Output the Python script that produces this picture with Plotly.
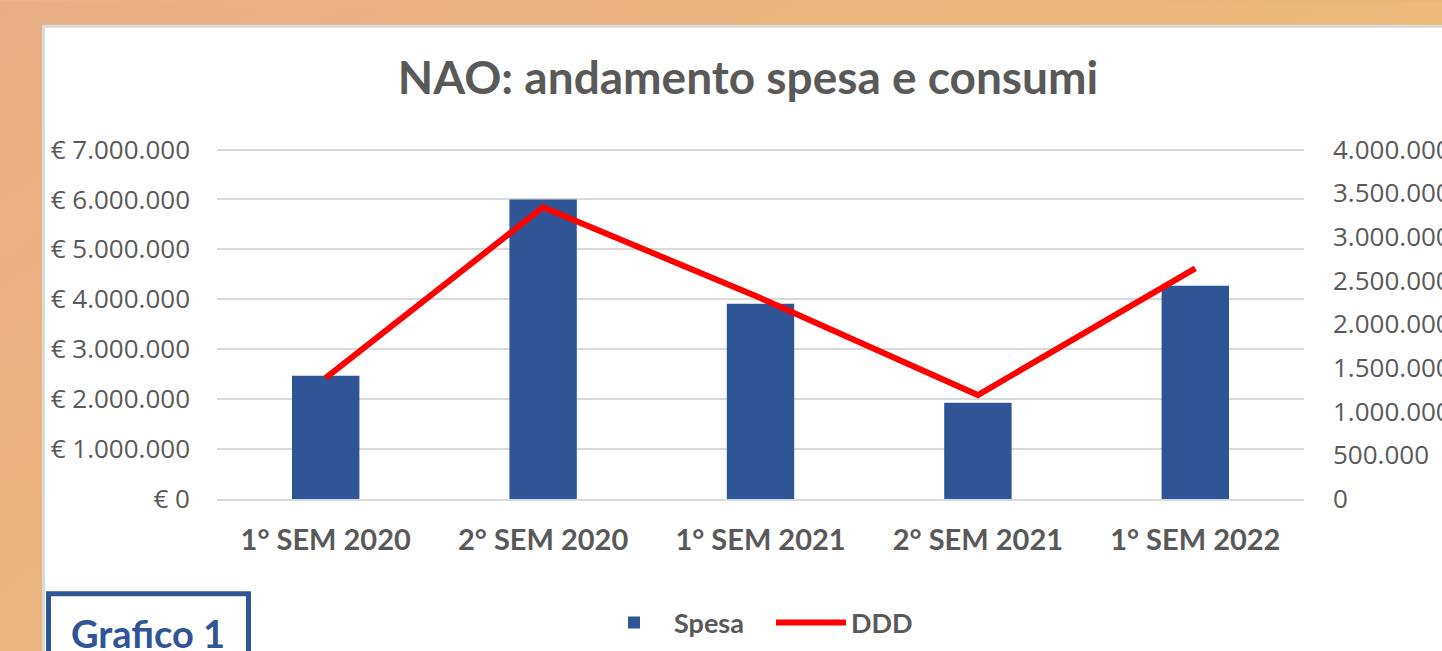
import base64
import plotly.graph_objects as go

categories = ["1° SEM 2020", "2° SEM 2020", "1° SEM 2021", "2° SEM 2021", "1° SEM 2022"]
spesa = [2470000, 6000000, 3910000, 1930000, 4270000]
ddd = [1385000, 3340000, 2300000, 1190000, 2640000]
left_ticks = [i * 1000000 for i in range(8)]
right_ticks = [i * 500000 for i in range(9)]


def it_num(v):
    return f"{v:,}".replace(",", ".")


left_text = ["€ " + it_num(v) for v in left_ticks]
right_text = [it_num(v) for v in right_ticks]

EPS = 1.01
W, H = 1442, 651
L, R, B = 217, 1304, 499
T = B - 350 * EPS
PW, PH = R - L, B - T


def px(x):
    return (x - L) / PW


def py(y):
    return (B - y) / PH


GREY = "#595959"
BLUE = "#2F5597"

fig = go.Figure()
fig.add_trace(go.Bar(x=categories, y=spesa, name="Spesa", marker_color=BLUE,
                     marker_line_width=0, yaxis="y"))
fig.add_trace(go.Scatter(x=categories, y=ddd, name="DDD", mode="lines",
                         line=dict(color="#FF0000", width=6), yaxis="y2"))

svg = ('<svg xmlns="http://www.w3.org/2000/svg" width="1442" height="651">'
       '<defs><linearGradient id="g" x1="0" y1="0" x2="1" y2="0.6">'
       '<stop offset="0" stop-color="#E8AE86"/><stop offset="0.5" stop-color="#EBB67E"/>'
       '<stop offset="1" stop-color="#EDBD78"/></linearGradient></defs>'
       '<rect width="1442" height="651" fill="url(#g)"/></svg>')
src = "data:image/svg+xml;base64," + base64.b64encode(svg.encode()).decode()

fig.update_layout(
    width=W, height=H,
    margin=dict(l=L, r=W - R, t=T, b=H - B, pad=0, autoexpand=False),
    paper_bgcolor="#EBB47F",
    plot_bgcolor="rgba(0,0,0,0)",
    bargap=0.69,
    showlegend=True,
    legend=dict(orientation="h", xref="container", yref="container",
                x=771 / W, xanchor="center", y=1 - 623 / H, yanchor="middle",
                font=dict(family="Lato", size=27, color=GREY, weight="bold"),
                bgcolor="rgba(0,0,0,0)", itemwidth=70, entrywidth=92,
                tracegroupgap=0),
    title=dict(text="<b>NAO: andamento spesa e consumi</b>", x=748 / W, xanchor="center",
               y=1 - 78 / H, yanchor="middle", xref="container", yref="container",
               font=dict(family="Lato", size=46, color=GREY)),
    xaxis=dict(showgrid=False, showline=True, linecolor="#D9D9D9", linewidth=2,
               ticks="", ticklabelstandoff=14, automargin=False,
               tickfont=dict(family="Lato", size=29, color=GREY, weight="bold")),
    yaxis=dict(range=[0, 7000000 * EPS], tickmode="array", tickvals=left_ticks,
               ticktext=left_text, automargin=False,
               showgrid=True, gridcolor="#D9D9D9", gridwidth=2, zeroline=False,
               ticks="", ticklabelstandoff=26,
               tickfont=dict(family="Open Sans", size=26, color=GREY)),
    yaxis2=dict(range=[0, 4000000 * EPS], tickmode="array", tickvals=right_ticks,
                ticktext=right_text, overlaying="y", automargin=False,
                side="right", showgrid=False, zeroline=False, ticks="", ticklabelstandoff=28,
                tickfont=dict(family="Open Sans", size=26, color=GREY)),
    images=[dict(source=src, xref="paper", yref="paper", x=px(0), y=py(0),
                 sizex=W / PW, sizey=H / PH, xanchor="left", yanchor="top",
                 sizing="stretch", layer="below")],
    shapes=[
        dict(type="rect", xref="paper", yref="paper", x0=px(43.5), x1=px(1450),
             y0=py(660), y1=py(25.5), fillcolor="white",
             line=dict(color="#D9D9D9", width=3), layer="below"),
        dict(type="rect", xref="paper", yref="paper", x0=px(48.5), x1=px(248.5),
             y0=py(670), y1=py(594), fillcolor="white",
             line=dict(color=BLUE, width=5), layer="above"),
    ],
    annotations=[dict(text="<b>Grafico 1</b>", xref="paper", yref="paper",
                      x=px(148), y=py(633), xanchor="center", yanchor="middle",
                      showarrow=False, font=dict(family="Lato", size=38, color=BLUE))],
)

fig.write_html("out.html", config={"displayModeBar": False},
               post_script="document.body.style.margin='0';"
                           "document.body.style.overflow='hidden';")
